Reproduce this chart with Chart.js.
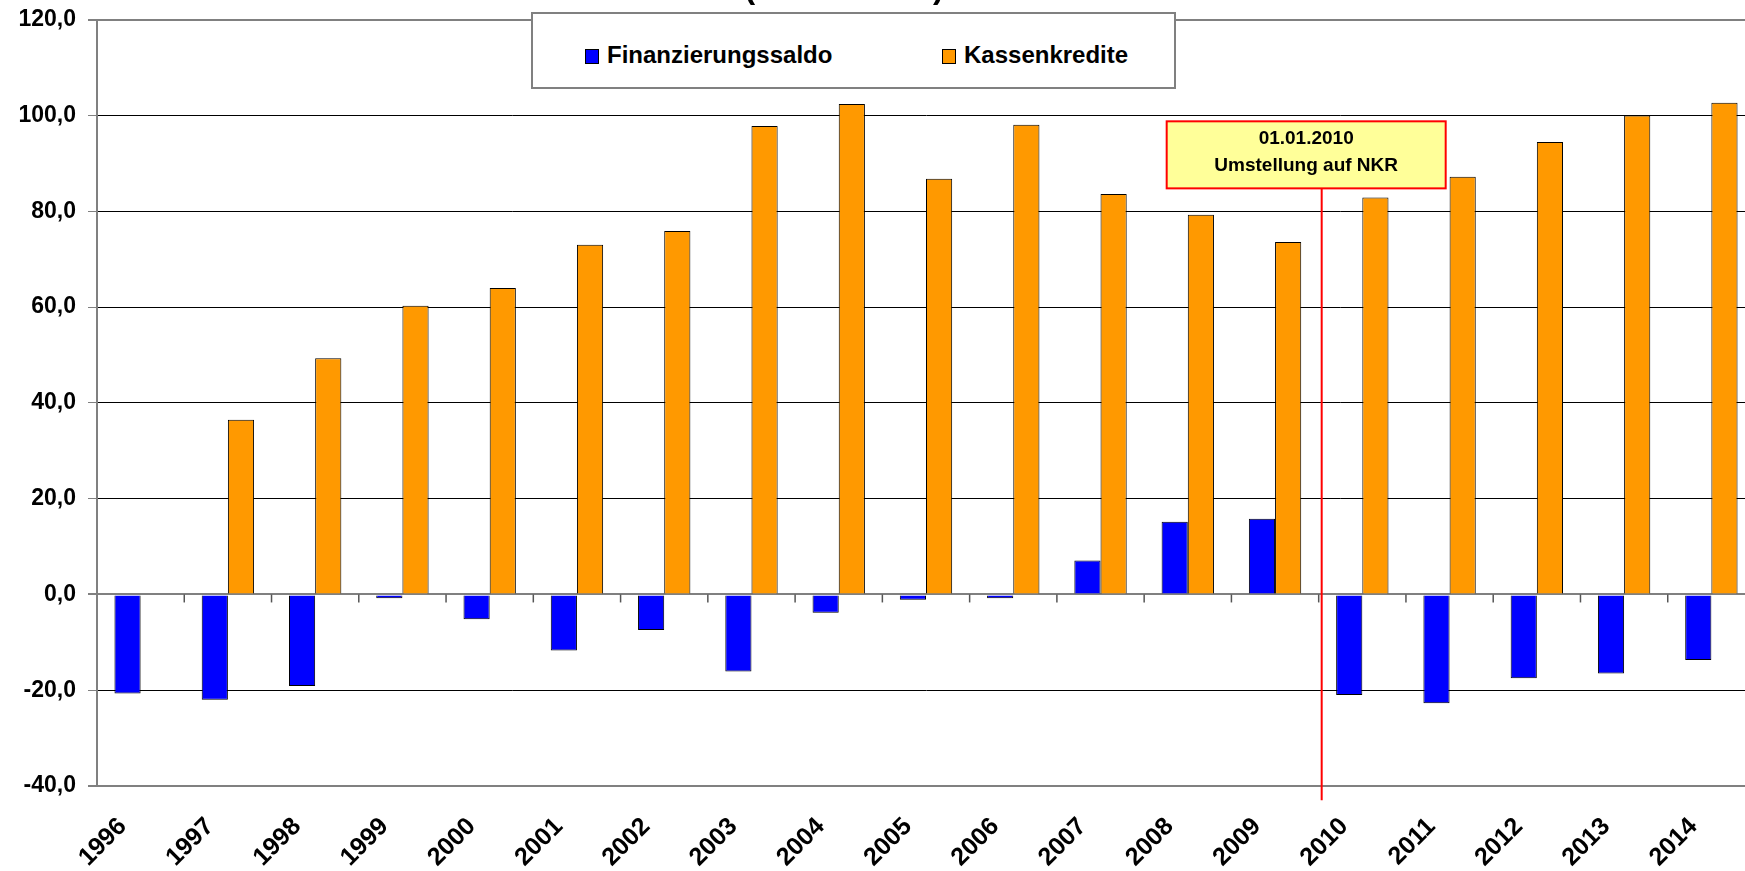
<!DOCTYPE html>
<html>
<head>
<meta charset="utf-8">
<script src="https://cdn.jsdelivr.net/npm/chart.js@4.4.1/dist/chart.umd.min.js"></script>
<style>
  html, body { margin: 0; padding: 0; background: #fff; overflow: hidden; width: 1745px; height: 871px; }
  #wrap { position: relative; width: 1745px; height: 871px; overflow: hidden; }
  #chart { position: absolute; left: 0; top: -6px; }
  #title { position: absolute; left: 0; width: 1688px; top: -29px; text-align: center; font: bold 32px "Liberation Sans", Arial, sans-serif; line-height: 32px; color: #000; }
  #legend { position: absolute; left: 531px; top: 12px; width: 641px; height: 73px; border: 2px solid #808080; background: #fff; }
  .item { position: absolute; top: 29px; font: bold 24px "Liberation Sans", Arial, sans-serif; line-height: 24px; color: #000; white-space: nowrap; }
  .item span.box { display: inline-block; width: 12px; height: 13px; border: 1px solid #000; margin-right: 8px; vertical-align: -1px; }
</style>
</head>
<body>
<div id="wrap">
  <canvas id="chart" width="1760" height="877"></canvas>
  <div id="title">(in Mio. EUR)</div>
  <div id="legend"></div>
</div>
<script>
const years = ['1996', '1997', '1998', '1999', '2000', '2001', '2002', '2003', '2004', '2005',
               '2006', '2007', '2008', '2009', '2010', '2011', '2012', '2013', '2014'];
const finanzierungssaldo = [-20.7, -22.0, -19.1, -0.8, -5.2, -11.7, -7.4, -16.1, -3.8, -1.1,
                            -0.8, 7.1, 15.2, 15.8, -21.0, -22.7, -17.5, -16.5, -13.7];
const kassenkredite = [null, 36.5, 49.3, 60.3, 64.0, 73.0, 75.9, 97.8, 102.4, 86.8,
                       98.1, 83.6, 79.3, 73.6, 82.9, 87.2, 94.5, 100.0, 102.7];
const yMin = -40, yMax = 120, yStep = 20;
const noteLines = ['01.01.2010', 'Umstellung auf NKR'];

const font = '"Liberation Sans", Arial, sans-serif';

// tick marks on the zero line and the NKR note
const extras = {
  id: 'extras',
  afterDatasetsDraw(chart) {
    const ctx = chart.ctx;
    const x = chart.scales.x, y = chart.scales.y;
    const y0 = y.getPixelForValue(0);
    ctx.save();
    ctx.strokeStyle = '#555';
    ctx.lineWidth = 1.5;
    for (let i = 1; i < years.length; i++) {
      const bx = (x.getPixelForValue(i - 1) + x.getPixelForValue(i)) / 2;
      ctx.beginPath();
      ctx.moveTo(bx, y0);
      ctx.lineTo(bx, y0 + 8);
      ctx.stroke();
    }
    ctx.restore();
  },
  afterDraw(chart) {
    const ctx = chart.ctx;
    const x = chart.scales.x, y = chart.scales.y;
    const idx = years.indexOf('2010');
    const lx = (x.getPixelForValue(idx - 1) + x.getPixelForValue(idx)) / 2 + 3;
    const top = y.getPixelForValue(98.8);
    const bottom = y.getPixelForValue(84.8);
    ctx.save();
    ctx.strokeStyle = '#ff0000';
    ctx.lineWidth = 2;
    ctx.beginPath();
    ctx.moveTo(lx, bottom);
    ctx.lineTo(lx, y.getPixelForValue(-43));
    ctx.stroke();
    const left = lx - 155, right = lx + 124;
    ctx.fillStyle = '#ffff99';
    ctx.fillRect(left, top, right - left, bottom - top);
    ctx.strokeRect(left, top, right - left, bottom - top);
    ctx.fillStyle = '#000';
    ctx.font = 'bold 19px ' + font;
    ctx.textAlign = 'center';
    ctx.textBaseline = 'alphabetic';
    const cx = (left + right) / 2;
    ctx.fillText(noteLines[0], cx, top + 23);
    ctx.fillText(noteLines[1], cx, top + 50);
    ctx.restore();
  }
};

function gridColor(ctx) {
  const v = ctx.tick.value;
  return (v === 0 || v === yMin || v === yMax) ? '#808080' : '#000000';
}

const chart = new Chart(document.getElementById('chart'), {
  type: 'bar',
  data: {
    labels: years,
    datasets: [
      { label: 'Finanzierungssaldo', data: finanzierungssaldo, backgroundColor: '#0000ff', borderColor: '#000', borderWidth: 1 },
      { label: 'Kassenkredite', data: kassenkredite, backgroundColor: '#ff9900', borderColor: '#000', borderWidth: 1 }
    ]
  },
  options: {
    responsive: false,
    animation: false,
    layout: { padding: { top: 13, right: 5, left: 0, bottom: 0 } },
    plugins: { legend: { display: false }, tooltip: { enabled: false } },
    datasets: { bar: { categoryPercentage: 0.6, barPercentage: 1.0 } },
    scales: {
      x: {
        grid: { display: false },
        border: { display: false },
        ticks: {
          color: '#000',
          font: { family: font, weight: 'bold', size: 25 },
          minRotation: 45,
          maxRotation: 45,
          padding: 18,
          labelOffset: -18
        },
        afterFit(scale) { scale.height = 85; }
      },
      y: {
        min: yMin,
        max: yMax,
        ticks: {
          stepSize: yStep,
          color: '#000',
          padding: 12,
          font: { family: font, weight: 'bold', size: 23 },
          callback: v => v.toFixed(1).replace('.', ',')
        },
        grid: {
          color: gridColor,
          lineWidth: ctx => (ctx.tick.value === 0 || ctx.tick.value === yMin || ctx.tick.value === yMax) ? 2 : 1,
          tickColor: '#808080',
          tickLength: 9
        },
        border: { color: '#808080', width: 2 },
        afterFit(scale) { scale.width = 97; }
      }
    }
  },
  plugins: [extras]
});

// legend built from the datasets
const legend = document.getElementById('legend');
const itemLeft = [52, 409];
chart.data.datasets.forEach((ds, i) => {
  const el = document.createElement('div');
  el.className = 'item';
  el.style.left = itemLeft[i] + 'px';
  el.innerHTML = '<span class="box" style="background:' + ds.backgroundColor + '"></span>' + ds.label;
  legend.appendChild(el);
});
</script>
</body>
</html>
